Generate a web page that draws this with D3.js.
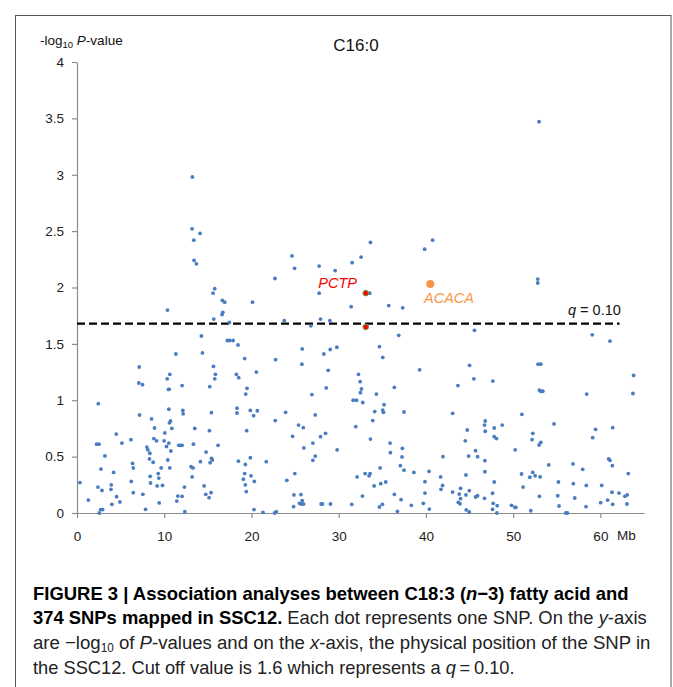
<!DOCTYPE html>
<html><head><meta charset="utf-8">
<script src="https://cdn.jsdelivr.net/npm/d3@7"></script>
<style>body{margin:0;background:#fff} svg{display:block}</style>
</head><body>
<svg id="c" width="673" height="687"></svg>
<script>
// ---- DATA ----
// SNP position on SSC12 (Mb) and -log10 P-value
const snpPoints = [
[0.34,0.27],[1.30,0.115],[2.44,0.97],[2.25,0.61],[2.52,0.61],[3.20,0.506],[2.75,0.39],[2.40,0.23],[2.86,0.20],[2.71,0.03],[2.94,0.03],[2.55,0.0],[4.50,0.70],[5.15,0.62],[4.20,0.36],[3.93,0.25],[3.89,0.21],[4.54,0.145],[4.00,0.077],[4.92,0.098],[6.18,0.65],[6.37,0.44],[6.45,0.40],[6.22,0.28],[6.45,0.18],[7.13,1.295],[7.09,1.153],[7.51,1.138],[7.17,0.869],[8.54,0.834],[8.89,0.754],[8.81,0.66],[9.12,0.64],[8.01,0.585],[8.12,0.56],[8.35,0.53],[8.31,0.48],[8.73,0.45],[8.39,0.325],[8.43,0.266],[7.55,0.166],[7.86,0.033],[9.31,0.35],[9.38,0.31],[9.65,0.40],[9.19,0.24],[9.80,0.245],[9.42,0.089],[10.34,1.19],[10.64,1.23],[10.49,1.097],[10.57,1.097],[10.53,0.92],[10.60,0.80],[10.72,0.816],[10.87,0.75],[10.07,0.71],[9.99,0.64],[10.53,0.62],[10.26,0.59],[10.76,0.55],[10.41,0.47],[10.64,0.40],[11.33,1.41],[12.05,1.13],[12.13,0.91],[12.17,0.88],[11.67,0.60],[11.86,0.60],[12.05,0.60],[12.32,0.23],[11.56,0.15],[12.05,0.148],[11.44,0.106],[12.36,0.012],[13.50,0.75],[13.35,0.61],[13.08,0.41],[13.31,0.40],[13.20,0.32],[14.26,1.57],[14.38,1.42],[15.64,1.30],[15.87,1.23],[15.79,1.19],[15.22,1.12],[15.41,0.89],[15.18,0.73],[14.80,0.54],[15.41,0.485],[15.52,0.47],[15.26,0.446],[14.15,0.455],[14.57,0.24],[14.76,0.166],[15.37,0.18],[15.14,0.136],[16.17,0.60],
[17.24,1.53],[17.50,1.53],[17.89,1.53],[18.46,1.49],[19.22,1.37],[22.77,1.36],[25.82,1.455],[25.78,1.32],[28.30,1.41],[29.03,1.45],[29.79,1.47],[18.27,1.23],[18.54,1.20],[20.56,1.25],[19.49,1.106],[19.34,1.055],[28.80,1.265],[28.57,1.109],[26.93,1.05],[32.27,1.23],[32.46,1.165],[32.61,1.10],[32.49,1.067],[31.66,1.0],[32.04,1.0],[32.76,0.98],[18.34,0.93],[18.34,0.887],[19.87,0.91],[20.67,0.907],[20.25,0.863],[23.91,0.893],[22.73,0.82],[27.31,0.87],[19.45,0.73],[25.40,0.78],[25.94,0.757],[24.71,0.68],[27.92,0.677],[28.49,0.707],[31.96,0.766],[26.01,0.577],[27.04,0.62],[29.82,0.56],[18.50,0.46],[19.30,0.43],[19.87,0.49],[21.70,0.455],[27.31,0.505],[27.04,0.467],[19.22,0.35],[19.95,0.33],[19.07,0.30],[20.33,0.28],[19.30,0.25],[19.41,0.19],[24.97,0.35],[24.06,0.29],[32.11,0.32],[32.72,0.15],[24.87,0.16],[25.67,0.163],[25.82,0.11],[25.51,0.086],[25.70,0.08],[25.97,0.08],[24.83,0.056],[27.99,0.08],[28.15,0.08],[29.06,0.08],[31.50,0.077],[20.29,0.03],[21.32,0.006],[22.65,0.0],[22.85,0.012],
[10.37,1.80],[15.68,1.72],[16.63,1.76],[16.72,1.78],[17.47,1.69],[23.76,1.706],[26.81,1.66],[27.92,1.72],[28.99,1.706],[31.43,1.83],[16.66,1.886],[16.93,1.87],[20.12,1.87],
[13.23,2.98],[13.19,2.52],[14.11,2.48],[13.39,2.42],[13.42,2.24],[13.69,2.21],[15.79,1.99],[15.60,1.95],[22.69,2.08],[24.64,2.28],[24.94,2.17],[27.76,2.19],[27.76,1.95],[29.59,2.15],[31.54,2.22],[52.97,3.47],[33.64,2.40],[32.57,2.27],[39.85,2.34],[40.77,2.42],[52.82,2.075],[52.82,2.04],[33.56,1.95],[35.74,1.84],[37.34,1.82],[36.88,1.576],[45.57,1.62],[59.07,1.58],[61.10,1.525],[34.67,1.475],
[35.05,1.38],[39.28,1.27],[45.0,1.31],[45.50,1.19],[47.67,1.17],[34.32,1.055],[36.38,1.115],[43.67,1.13],[35.20,0.96],[34.13,0.90],[35.05,0.913],[35.13,0.893],[37.49,0.896],[43.06,0.884],[33.90,0.82],[33.64,0.656],[35.89,0.62],[37.30,0.574],[35.93,0.535],[37.26,0.497],[37.07,0.42],[37.49,0.38],[34.75,0.40],[33.03,0.35],[33.60,0.35],[33.49,0.33],[38.62,0.36],[40.36,0.37],[34.06,0.24],[34.82,0.26],[35.39,0.275],[39.89,0.278],[41.95,0.50],[41.69,0.32],[41.91,0.245],[41.73,0.21],[36.38,0.166],[39.89,0.177],[37.15,0.118],[38.33,0.068],[39.70,0.086],[40.39,0.035],[36.73,0.015],[34.67,0.053],[35.01,0.077],[43.06,0.186],[43.97,0.219],[44.59,0.337],[44.89,0.505],[44.51,0.64],[44.74,0.736],[45.69,0.553],[45.92,0.50],[46.76,0.464],[46.76,0.366],[47.83,0.275],[46.80,0.816],[46.72,0.78],[46.80,0.725],[47.83,0.754],[48.74,0.78],[47.83,0.677],[48.09,0.66],[43.82,0.168],[43.97,0.127],[43.71,0.095],[43.90,0.082],[44.59,0.16],[44.97,0.198],[45.69,0.142],[45.92,0.153],[46.72,0.13],[47.64,0.175],[47.71,0.086],[48.17,0.065],[47.64,0.033],[48.13,0.0],[44.62,0.027],[44.97,0.009],
[52.86,1.32],[53.17,1.32],[53.01,1.09],[53.17,1.08],[53.40,1.08],[58.43,1.055],[63.81,1.22],[63.73,1.06],[51.0,0.875],[54.69,0.79],[52.25,0.707],[52.17,0.65],[53.17,0.627],[52.97,0.603],[59.45,0.742],[61.41,0.757],[59.12,0.668],[50.23,0.56],[54.08,0.426],[56.86,0.435],[57.97,0.387],[60.95,0.48],[61.10,0.467],[61.37,0.42],[63.20,0.35],[50.96,0.346],[52.25,0.36],[52.52,0.33],[51.91,0.317],[53.09,0.32],[51.14,0.23],[55.19,0.275],[56.90,0.26],[58.39,0.245],[60.15,0.245],[53.01,0.148],[55.11,0.153],[57.06,0.133],[61.33,0.184],[62.13,0.177],[62.81,0.148],[63.08,0.16],[60.83,0.115],[60.03,0.092],[61.41,0.077],[63.04,0.08],[49.81,0.068],[50.31,0.05],[50.20,0.05],[52.02,0.02],[55.26,0.062],[58.35,0.056],[56.03,0.0],[56.22,0.0]
];
const pctpPoints = [[33.10,1.95],[33.10,1.65]];
const acacaPoints = [[40.50,2.03]];
const xTicks = [0,10,20,30,40,50,60];
const yTicks = [0,0.5,1,1.5,2,2.5,3,3.5,4];
const xDomain = [0,65];
const yDomain = [0,4];
const qThreshold = 1.68;
const qLineEnd = 62.2;
const titleText = "C16:0";
// ---- DRAW ----
const svg = d3.select("#c");
const FONT = "'Liberation Sans', Arial, sans-serif";
const CAP = "'Liberation Sans Narrow', 'Arial Narrow', 'Liberation Sans', sans-serif";

svg.append("rect").attr("x",15.5).attr("y",15.5).attr("width",655.5).attr("height",700)
  .attr("fill","none").attr("stroke","#555").attr("stroke-width",1);

const x = d3.scaleLinear().domain(xDomain).range([77,644]);
const y = d3.scaleLinear().domain(yDomain).range([513,62]);

const axisColor = "#8c8c8c";
const gy = svg.append("g").attr("transform","translate(77,0)")
  .call(d3.axisLeft(y).tickValues(yTicks).tickSize(5).tickSizeOuter(0).tickPadding(8).tickFormat(d=>String(d)));
const gx = svg.append("g").attr("transform","translate(0,513)")
  .call(d3.axisBottom(x).tickValues(xTicks).tickSize(5).tickSizeOuter(0).tickPadding(13).tickFormat(d=>String(d)));
[gx,gy].forEach(g=>{
  g.selectAll("path,line").attr("stroke",axisColor).attr("stroke-width",1.2);
  g.selectAll("text").attr("fill","#222").style("font-family",FONT).style("font-size","13.5px");
});
svg.append("text").attr("x",617).attr("y",540).text("Mb")
  .style("font-family",FONT).style("font-size","13.5px").attr("fill","#222");

// threshold line
svg.append("line").attr("x1",x(0)).attr("x2",x(qLineEnd)).attr("y1",y(qThreshold)).attr("y2",y(qThreshold))
  .attr("stroke","#000").attr("stroke-width",2.4).attr("stroke-dasharray","8,4");
const qt = svg.append("text").attr("x",568).attr("y",315).style("font-family",FONT).style("font-size","14.5px").attr("fill","#111");
qt.append("tspan").style("font-style","italic").text("q");
qt.append("tspan").text(" = 0.10");

// points
svg.append("g").selectAll("circle").data(snpPoints).join("circle")
  .attr("cx",d=>x(d[0])).attr("cy",d=>y(d[1])).attr("r",1.9).attr("fill","#4a7dbf");
svg.append("g").selectAll("circle").data(acacaPoints).join("circle")
  .attr("cx",d=>x(d[0])).attr("cy",d=>y(d[1])).attr("r",4).attr("fill","#f79646");
svg.append("g").selectAll("circle").data(pctpPoints).join("circle")
  .attr("cx",d=>x(d[0])).attr("cy",d=>y(d[1])).attr("r",2.8).attr("fill","#ff0000")
  .attr("stroke","#6aa84f").attr("stroke-width",1);

svg.append("text").attr("x",357).attr("y",288).attr("text-anchor","end").text("PCTP")
  .style("font-family",FONT).style("font-size","14.5px").style("font-style","italic").attr("fill","#ff0000");
svg.append("text").attr("x",424).attr("y",303).text("ACACA")
  .style("font-family",FONT).style("font-size","14.5px").style("font-style","italic").attr("fill","#f79646");

// titles
svg.append("text").attr("x",356).attr("y",51).attr("text-anchor","middle").text(titleText)
  .style("font-family",FONT).style("font-size","17px").attr("fill","#111");
const yl = svg.append("text").attr("x",40).attr("y",45).style("font-family",FONT).style("font-size","13.5px").attr("fill","#111");
yl.append("tspan").text("-log");
yl.append("tspan").attr("dy",3).style("font-size","9.5px").text("10");
yl.append("tspan").attr("dy",-3).text("\u00a0");
yl.append("tspan").style("font-style","italic").text("P");
yl.append("tspan").text("-value");

// caption: each line horizontally scaled to the reference width
function capLine(yy, len, parts){
  const g = svg.append("g");
  const t = g.append("text").attr("x",0).attr("y",0)
    .style("font-family",CAP).style("font-size","19px").attr("fill","#222");
  parts.forEach(p=>{
    const s = t.append("tspan").text(p.t);
    if(p.b){ s.style("font-weight","bold").attr("fill","#000"); }
    if(p.i){ s.style("font-style","italic"); }
    if(p.sub){ s.style("font-size","12px").attr("dy",3); }
    if(p.up){ s.attr("dy",-3); }
  });
  const natural = t.node().getComputedTextLength();
  g.attr("transform",`translate(33,${yy}) scale(${len/natural},1)`);
}
capLine(600, 596, [{t:"FIGURE 3 | Association analyses between C18:3 (",b:1},{t:"n",b:1,i:1},{t:"\u22123) fatty acid and",b:1}]);
capLine(624, 614, [{t:"374 SNPs mapped in SSC12.",b:1},{t:" Each dot represents one SNP. On the "},{t:"y",i:1},{t:"-axis"}]);
capLine(649, 618, [{t:"are \u2212log"},{t:"10",sub:1},{t:" of ",up:1},{t:"P",i:1},{t:"-values and on the "},{t:"x",i:1},{t:"-axis, the physical position of the SNP in"}]);
capLine(674, 482, [{t:"the SSC12. Cut off value is 1.6 which represents a "},{t:"q",i:1},{t:"\u2009=\u20090.10."}]);
</script>
</body></html>
